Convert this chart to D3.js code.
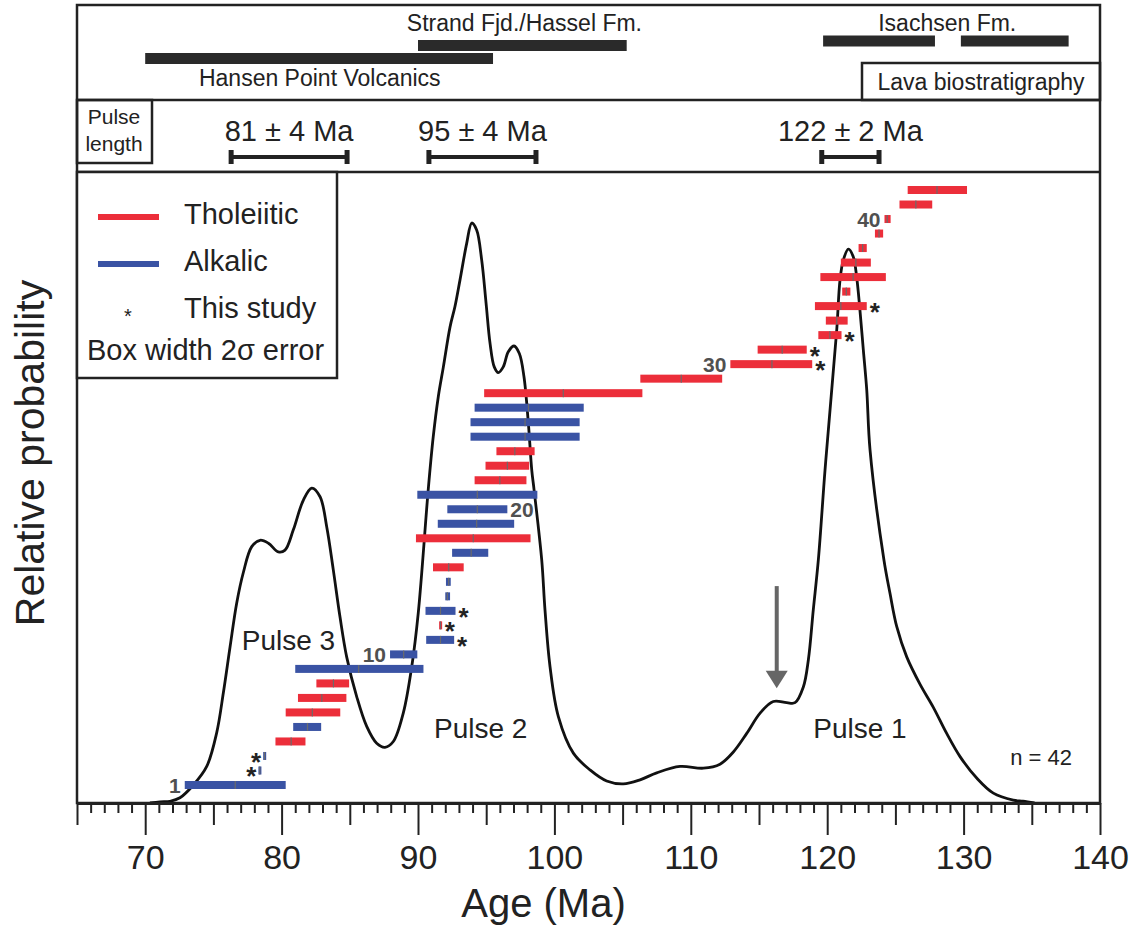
<!DOCTYPE html>
<html>
<head>
<meta charset="utf-8">
<script src="https://cdn.jsdelivr.net/npm/d3@7"></script>
<style>
  body { margin: 0; background: #fff; }
  svg text { font-family: "Liberation Sans", Arial, Helvetica, sans-serif; fill: #222; }
</style>
</head>
<body>
<script>
// ---- sample ages (Ma), numbered 1..42 from bottom to top
const sampleLo   = [72.9, 78.3, 78.65, 79.55, 80.85, 80.3, 81.2, 82.55, 81.0, 87.95,
                    90.6, 91.55, 90.55, 92.0, 92.05, 91.1, 92.5, 89.85, 91.45, 92.15,
                    89.95, 94.15, 94.95, 95.75, 93.85, 93.85, 94.15, 94.85, 106.3, 112.9,
                    114.9, 119.35, 119.9, 119.1, 121.1, 119.5, 121.0, 122.3, 123.5, 124.2,
                    125.3, 125.9];
const sampleHi   = [80.3, 78.5, 78.85, 81.75, 82.9, 84.3, 84.75, 84.95, 90.4, 89.95,
                    92.65, 91.75, 92.75, 92.35, 92.4, 93.35, 95.15, 98.25, 97.05, 96.55,
                    98.75, 97.95, 98.15, 98.55, 101.85, 101.85, 102.15, 106.45, 112.3, 118.9,
                    118.5, 121.05, 121.5, 122.9, 121.7, 124.3, 123.2, 122.9, 124.1, 124.65,
                    127.7, 130.25];
const sampleMean = [76.6, 78.4, 78.75, 80.7, 81.9, 82.25, 82.95, 83.8, 85.65, 88.95,
                    91.65, 91.65, 91.65, 92.15, 92.25, 92.25, 93.9, 94.05, 94.3, 94.35,
                    94.35, 96.0, 96.55, 97.1, 97.85, 97.85, 98.1, 100.65, 109.3, 115.95,
                    116.7, 120.2, 120.7, 121.0, 121.4, 121.9, 122.1, 122.6, 123.8, 124.4,
                    126.5, 128.05];
// T = tholeiitic, A = alkalic
const sampleType = ["A","A","A","T","A","T","T","T","A","A",
                    "A","T","A","A","A","T","A","T","A","A",
                    "A","T","T","T","A","A","A","T","T","T",
                    "T","T","T","T","T","T","T","T","T","T",
                    "T","T"];
const thisStudy = [2, 3, 11, 12, 13, 30, 31, 32, 34];
const starLeft = [2, 3];
const numberedLeft = [1, 10, 30, 40];
const numberedRight = [20];

// ---- relative probability curve (peak of pulse 2 = 1)
const curveAge  = [70.35, 71.09, 71.82, 72.55, 73.53, 74.51, 75.24, 75.73, 76.22, 76.71,
                   77.19, 77.81, 78.42, 79.03, 79.76, 80.25, 80.86, 81.59, 82.21, 82.82,
                   83.31, 83.79, 84.28, 84.77, 85.51, 86.24, 86.97, 87.58, 88.19, 88.92,
                   89.54, 90.02, 90.76, 91.12, 91.49, 91.86, 92.35, 92.71, 93.08, 93.57,
                   93.94, 94.3, 94.67, 94.99, 95.28, 95.59, 95.89, 96.25, 96.62, 97.04,
                   97.43, 97.77, 98.09, 98.34, 98.51, 99.07, 99.31, 99.68, 100.29, 101.39,
                   102.61, 103.83, 105.05, 106.28, 107.5, 109.21, 110.92, 112.14, 113.12, 114.1,
                   115.08, 116.05, 117.03, 117.64, 118.25, 118.62, 118.98, 119.35, 119.84, 120.33,
                   120.7, 120.94, 121.18, 121.55, 121.91, 122.16, 122.4, 122.65, 122.9, 123.14,
                   124.16, 124.6, 125.1, 125.83, 126.8, 127.78, 128.76, 129.74, 130.96, 132.18,
                   133.64, 134.35, 135.2];
const curveProb = [0.0, 0.002, 0.003, 0.009, 0.031, 0.063, 0.121, 0.19, 0.269, 0.345,
                   0.397, 0.442, 0.453, 0.448, 0.433, 0.436, 0.471, 0.522, 0.543, 0.528,
                   0.476, 0.402, 0.321, 0.252, 0.183, 0.132, 0.103, 0.096, 0.106, 0.155,
                   0.235, 0.328, 0.543, 0.632, 0.701, 0.752, 0.821, 0.856, 0.902, 0.965,
                   1.0, 0.988, 0.936, 0.862, 0.793, 0.752, 0.742, 0.752, 0.778, 0.788,
                   0.775, 0.735, 0.655, 0.574, 0.54, 0.419, 0.333, 0.235, 0.149, 0.086,
                   0.057, 0.038, 0.033, 0.04, 0.052, 0.063, 0.06, 0.067, 0.088, 0.12,
                   0.155, 0.175, 0.173, 0.173, 0.2, 0.247, 0.333, 0.419, 0.574, 0.712,
                   0.816, 0.902, 0.936, 0.955, 0.942, 0.907, 0.85, 0.781, 0.712, 0.609,
                   0.419, 0.362, 0.304, 0.252, 0.205, 0.165, 0.12, 0.08, 0.043, 0.017,
                   0.005, 0.003, 0.0];

// ---- formations (top panel) and pulse lengths
const formationName  = ["Hansen Point Volcanics", "Strand Fjd./Hassel Fm.", "Isachsen Fm.", ""];
const formationStart = [70, 90, 119.7, 129.8];
const formationEnd   = [95.5, 105.3, 127.9, 137.7];
const pulseLabel = ["81 ± 4 Ma", "95 ± 4 Ma", "122 ± 2 Ma"];
const pulseStart = [76.3, 90.8, 119.6];
const pulseEnd   = [84.8, 98.65, 123.8];
const pulseName  = ["Pulse 3", "Pulse 2", "Pulse 1"];
const pulseNameAge = [80.5, 94.6, 122.4];

//Set up dimensions
const width = 1130;
const height = 930;
const left = 77, right = 1100;
const frameTop = 5, pulseTop = 100, plotTop = 172, plotBottom = 803;
const red = "#ec2e3a", blue = "#3a53a4", ink = "#222";

//Set up scales
const x = d3.scaleLinear().domain([65, 140]).range([left, right]);
const y = d3.scaleLinear().domain([0, 1.088]).range([plotBottom, plotTop]);
const yBar = d3.scaleLinear().domain([1, 42]).range([785, 190]);

//Make the SVG
const svg = d3.select("body").append("svg")
  .attr("width", width)
  .attr("height", height);

//Frames
svg.append("rect")
  .attr("x", left).attr("y", frameTop)
  .attr("width", right - left).attr("height", plotBottom - frameTop)
  .attr("fill", "none").attr("stroke", ink).attr("stroke-width", 2.5);
[pulseTop, plotTop].forEach(yy => {
  svg.append("line")
    .attr("x1", left).attr("x2", right).attr("y1", yy).attr("y2", yy)
    .attr("stroke", ink).attr("stroke-width", 2.5);
});

//Top panel: formations
const formRowY = [58.5, 45.5, 41, 41];
formationStart.forEach((s, i) => {
  svg.append("rect")
    .attr("x", x(s)).attr("y", formRowY[i] - 5.5)
    .attr("width", x(formationEnd[i]) - x(s)).attr("height", 11)
    .attr("fill", "#2a2a2a");
});
const formTextAge = [82.8, 97.8, 128.8];
const formTextY = [86, 31, 31];
formationName.slice(0, 3).forEach((t, i) => {
  svg.append("text")
    .attr("x", x(formTextAge[i])).attr("y", formTextY[i])
    .attr("text-anchor", "middle").attr("font-size", 23)
    .text(t);
});
svg.append("rect")
  .attr("x", 862).attr("y", 63).attr("width", right - 862).attr("height", pulseTop - 63)
  .attr("fill", "none").attr("stroke", ink).attr("stroke-width", 2.5);
svg.append("text")
  .attr("x", 981).attr("y", 90).attr("text-anchor", "middle").attr("font-size", 23)
  .text("Lava biostratigraphy");

//Pulse length panel
svg.append("rect")
  .attr("x", left).attr("y", pulseTop).attr("width", 152 - left).attr("height", 63)
  .attr("fill", "none").attr("stroke", ink).attr("stroke-width", 2.5);
svg.append("text").attr("x", 114).attr("y", 124).attr("text-anchor", "middle")
  .attr("font-size", 21).text("Pulse");
svg.append("text").attr("x", 114).attr("y", 151).attr("text-anchor", "middle")
  .attr("font-size", 21).text("length");
pulseLabel.forEach((t, i) => {
  const a = x(pulseStart[i]), b = x(pulseEnd[i]), yy = 157;
  svg.append("text")
    .attr("x", (a + b) / 2).attr("y", 141).attr("text-anchor", "middle")
    .attr("font-size", 29).text(t);
  svg.append("line").attr("x1", a).attr("x2", b).attr("y1", yy).attr("y2", yy)
    .attr("stroke", ink).attr("stroke-width", 4);
  [a, b].forEach(e => svg.append("line")
    .attr("x1", e).attr("x2", e).attr("y1", yy - 7).attr("y2", yy + 7)
    .attr("stroke", ink).attr("stroke-width", 5));
});

//Probability curve
const line = d3.line()
  .x(d => x(d[0]))
  .y(d => y(d[1]))
  .curve(d3.curveCatmullRom.alpha(0.5));
svg.append("path")
  .datum(curveAge.map((a, i) => [a, curveProb[i]]))
  .attr("d", line)
  .attr("fill", "none").attr("stroke", "#111").attr("stroke-width", 2.8);

//Arrow
const arrowX = x(116.3);
svg.append("line")
  .attr("x1", arrowX).attr("x2", arrowX).attr("y1", y(0.374)).attr("y2", y(0.225))
  .attr("stroke", "#666").attr("stroke-width", 4);
svg.append("path")
  .attr("d", `M${arrowX - 11},${y(0.228)} L${arrowX + 11},${y(0.228)} L${arrowX},${y(0.198)} Z`)
  .attr("fill", "#666");

//Age bars
const samples = sampleLo.map((lo, i) => ({
  n: i + 1, lo: lo, hi: sampleHi[i], mean: sampleMean[i], type: sampleType[i]
}));
svg.selectAll("rect.age")
  .data(samples)
  .enter()
  .append("rect")
  .attr("class", "age")
  .attr("x", d => x(d.lo))
  .attr("y", d => yBar(d.n) - 4)
  .attr("width", d => Math.max(3, x(d.hi) - x(d.lo)))
  .attr("height", 8)
  .attr("fill", d => d.type === "T" ? red : blue);
svg.selectAll("line.mean")
  .data(samples)
  .enter()
  .append("line")
  .attr("class", "mean")
  .attr("x1", d => x(d.mean)).attr("x2", d => x(d.mean))
  .attr("y1", d => yBar(d.n) - 4).attr("y2", d => yBar(d.n) + 4)
  .attr("stroke", "#6b6b6b").attr("stroke-width", 1.2);

//Stars (this study)
svg.selectAll("text.star")
  .data(samples.filter(d => thisStudy.includes(d.n)))
  .enter()
  .append("text")
  .attr("class", "star")
  .attr("x", d => starLeft.includes(d.n) ? x(d.lo) - 7 : x(d.hi) + 8)
  .attr("y", d => yBar(d.n) + 15)
  .attr("text-anchor", "middle")
  .attr("font-size", 26).attr("font-weight", "bold")
  .text("*");

//Sample numbers
svg.selectAll("text.num")
  .data(samples.filter(d => numberedLeft.includes(d.n) || numberedRight.includes(d.n)))
  .enter()
  .append("text")
  .attr("class", "num")
  .attr("x", d => numberedLeft.includes(d.n) ? x(d.lo) - 4 : x(d.hi) + 3)
  .attr("y", d => yBar(d.n) + 7.5)
  .attr("text-anchor", d => numberedLeft.includes(d.n) ? "end" : "start")
  .attr("font-size", 21).attr("font-weight", "bold")
  .style("fill", "#505050")
  .text(d => d.n);

//Pulse names and n
const pulseNameY = [650, 738, 738];
pulseName.forEach((t, i) => {
  svg.append("text")
    .attr("x", x(pulseNameAge[i])).attr("y", pulseNameY[i])
    .attr("text-anchor", "middle").attr("font-size", 28).text(t);
});
svg.append("text")
  .attr("x", 1072).attr("y", 765).attr("text-anchor", "end")
  .attr("font-size", 22).text("n = 42");

//Legend
svg.append("rect")
  .attr("x", left).attr("y", plotTop).attr("width", 337 - left).attr("height", 378 - plotTop)
  .attr("fill", "#fff").attr("stroke", ink).attr("stroke-width", 2.5);
const legendLabel = ["Tholeiitic", "Alkalic"];
const legendColor = [red, blue];
legendLabel.forEach((t, i) => {
  const ly = 217 + i * 47;
  svg.append("line").attr("x1", 98).attr("x2", 159).attr("y1", ly).attr("y2", ly)
    .attr("stroke", legendColor[i]).attr("stroke-width", 6);
  svg.append("text").attr("x", 184).attr("y", ly + 7 + 0).attr("font-size", 29).text(t);
});
svg.append("text").attr("x", 128).attr("y", 323).attr("text-anchor", "middle")
  .attr("font-size", 20).text("*");
svg.append("text").attr("x", 184).attr("y", 318).attr("font-size", 29).text("This study");
svg.append("text").attr("x", 87).attr("y", 360).attr("font-size", 29).text("Box width 2σ error");

//Axes
const axisG = svg.append("g").attr("transform", `translate(0,${plotBottom})`);
axisG.append("g")
  .call(d3.axisBottom(x).tickValues(d3.range(66, 140).filter(d => d % 5 !== 0))
    .tickSize(10).tickSizeOuter(0).tickFormat(""));
axisG.append("g")
  .call(d3.axisBottom(x).tickValues(d3.range(65, 141, 10))
    .tickSize(22).tickSizeOuter(0).tickFormat(""));
axisG.append("g")
  .call(d3.axisBottom(x).tickValues(d3.range(70, 141, 10))
    .tickSize(32).tickSizeOuter(0).tickPadding(10));
axisG.selectAll(".domain").attr("stroke", ink).attr("stroke-width", 3);
axisG.selectAll(".tick line").attr("stroke", ink).attr("stroke-width", 2);
axisG.selectAll(".tick text")
  .attr("font-size", 34).attr("font-family", "Liberation Sans, Arial, sans-serif")
  .style("fill", ink);

svg.append("text")
  .attr("x", x(99.2)).attr("y", 917).attr("text-anchor", "middle")
  .attr("font-size", 40).text("Age (Ma)");
svg.append("text")
  .attr("transform", `translate(44,${453}) rotate(-90)`)
  .attr("text-anchor", "middle").attr("font-size", 41)
  .text("Relative probability");
</script>
</body>
</html>
